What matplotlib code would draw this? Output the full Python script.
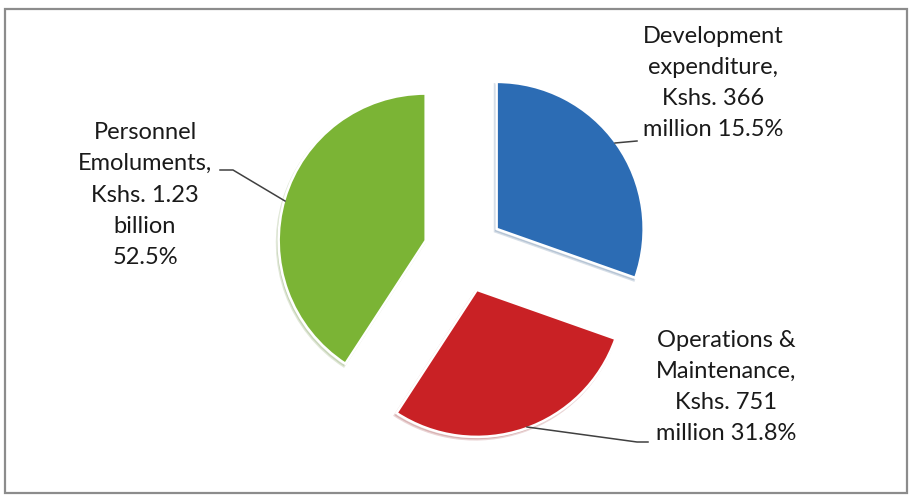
import matplotlib.pyplot as plt
from matplotlib.patches import Rectangle

# wedge shares as drawn in the picture (the labels carry the stated figures)
categories = ["Development", "Operations", "Personnel"]
shares = [30.4, 28.8, 40.8]
colors = ["#2C6CB4", "#C92125", "#7BB435"]
labels = ["Development\nexpenditure,\nKshs. 366\nmillion 15.5%",
          "Operations &\nMaintenance,\nKshs. 751\nmillion 31.8%",
          "Personnel\nEmoluments,\nKshs. 1.23\nbillion\n52.5%"]

W, H = 910, 497
R = 147.0           # pie radius in pixels
CX, CY = 464, 252   # pie centre in pixels


def px(x, y):
    # pixel position (y down) -> data units
    return (x - CX) / R, (CY - y) / R


fig = plt.figure(figsize=(W / 100, H / 100), dpi=100)
ax = fig.add_axes([0, 0, 1, 1])

ax.pie(shares, colors=colors, startangle=90, counterclock=False,
       explode=[0.272] * 3, radius=1,
       wedgeprops=dict(edgecolor="white", linewidth=1.8),
       shadow=dict(ox=-0.008, oy=-0.012, shade=0.3, alpha=0.18))

ax.set_xlim(-CX / R, (W - CX) / R)
ax.set_ylim((CY - H) / R, CY / R)
ax.set_aspect("auto")
ax.axis("off")

font = ["Lato", "DejaVu Sans"]
for (x, y), txt in zip([(713, 83), (726, 387), (145, 195)], labels):
    ax.text(*px(x, y), txt, ha="center", va="center", fontsize=17,
            linespacing=1.6, family=font, color="#1a1a1a")

# leader lines
leaders = [[(615, 143), (637, 141)],
           [(527, 427), (637, 442), (648, 442)],
           [(220, 170), (233, 170), (285, 201)]]
for pts in leaders:
    xs, ys = zip(*[px(x, y) for x, y in pts])
    ax.plot(xs, ys, color="#404040", lw=1.1)

# chart frame
x0, y0 = px(5, 493)
x1, y1 = px(907, 9)
ax.add_patch(Rectangle((x0, y0), x1 - x0, y1 - y0, fill=False,
                       edgecolor="#8c8c8c", lw=1.6, clip_on=False))

fig.savefig("out.png", dpi=100, facecolor="white")
